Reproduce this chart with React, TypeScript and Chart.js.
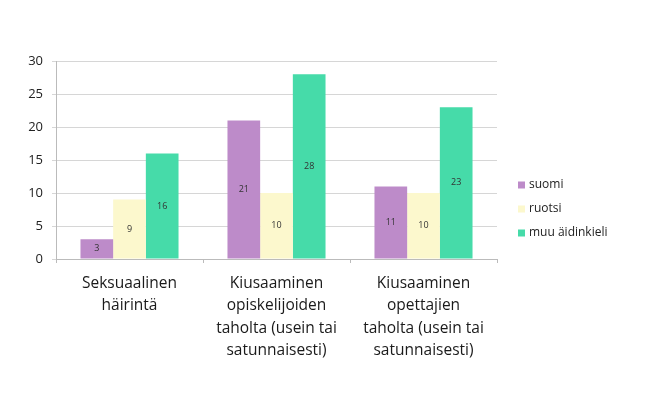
import React, { useEffect, useRef } from "react";
import { Chart, registerables } from "chart.js";

Chart.register(...registerables);

const categories: string[][] = [
  ["Seksuaalinen", "häirintä"],
  ["Kiusaaminen", "opiskelijoiden", "taholta (usein tai", "satunnaisesti)"],
  ["Kiusaaminen", "opettajien", "taholta (usein tai", "satunnaisesti)"],
];
const suomi = [3, 21, 11];
const ruotsi = [9, 10, 10];
const muu = [16, 28, 23];
const seriesNames = ["suomi", "ruotsi", "muu äidinkieli"];
const colors = ["#bd8bc9", "#fcf8cd", "#46dba9"];
const yTicks = [0, 5, 10, 15, 20, 25, 30];

const FONT = "'Open Sans', sans-serif";

const labelPlugin = {
  id: "barLabels",
  afterDatasetsDraw(chart: any) {
    const ctx = chart.ctx;
    ctx.save();
    ctx.font = `9px ${FONT}`;
    ctx.fillStyle = "#333";
    ctx.textAlign = "center";
    ctx.textBaseline = "middle";
    chart.data.datasets.forEach((ds: any, i: number) => {
      const meta = chart.getDatasetMeta(i);
      meta.data.forEach((bar: any, j: number) => {
        const y = (bar.y + bar.base) / 2;
        ctx.fillText(String(ds.data[j]), bar.x, y);
      });
    });
    ctx.restore();
  },
};

const legendPlugin = {
  id: "customLegend",
  afterDraw(chart: any) {
    const ctx = chart.ctx;
    const area = chart.chartArea;
    ctx.save();
    ctx.font = `12px ${FONT}`;
    ctx.textBaseline = "middle";
    const x = area.right + 21;
    const startY = area.top + 124;
    chart.data.datasets.forEach((ds: any, i: number) => {
      const y = startY + i * 24;
      ctx.fillStyle = ds.backgroundColor;
      ctx.fillRect(x, y - 3.5, 7, 7);
      ctx.fillStyle = "#222";
      ctx.fillText(ds.label, x + 11, y);
    });
    ctx.restore();
  },
};

export default function App() {
  const ref = useRef<HTMLCanvasElement>(null);
  useEffect(() => {
    document.body.style.margin = "0";
    const chart = new Chart(ref.current!, {
      type: "bar",
      data: {
        labels: categories,
        datasets: [suomi, ruotsi, muu].map((d, i) => ({
          label: seriesNames[i],
          data: d,
          backgroundColor: colors[i],
          barPercentage: 1,
          categoryPercentage: 0.667,
        })),
      },
      options: {
        animation: false,
        responsive: false,
        layout: { padding: { top: 61, right: 157, left: 0, bottom: 0 } },
        plugins: { legend: { display: false }, tooltip: { enabled: false } },
        scales: {
          x: {
            grid: {
              drawOnChartArea: false,
              offset: true,
              tickLength: 4,
              color: "#bbb",
            },
            border: { color: "#bbb" },
            ticks: {
              color: "#1a1a1a",
              font: { family: FONT, size: 15.5, lineHeight: 1.45 },
              padding: 9,
              maxRotation: 0,
              autoSkip: false,
            },
            afterFit(scale: any) {
              scale.height = 134;
            },
          },
          y: {
            min: 0,
            max: 30,
            afterBuildTicks(scale: any) {
              scale.ticks = yTicks.map((v) => ({ value: v }));
            },
            grid: { color: "#d6d6d6", tickLength: 4 },
            border: { color: "#bbb" },
            ticks: {
              color: "#222",
              font: { family: FONT, size: 13 },
              padding: 9,
            },
            afterFit(scale: any) {
              scale.width = 56;
            },
          },
        },
      },
      plugins: [labelPlugin, legendPlugin],
    });
    return () => chart.destroy();
  }, []);
  return (
    <div style={{ position: "absolute", left: 0, top: 0, width: 654, height: 393 }}>
      <canvas ref={ref} width={654} height={393} style={{ display: "block" }} />
    </div>
  );
}
